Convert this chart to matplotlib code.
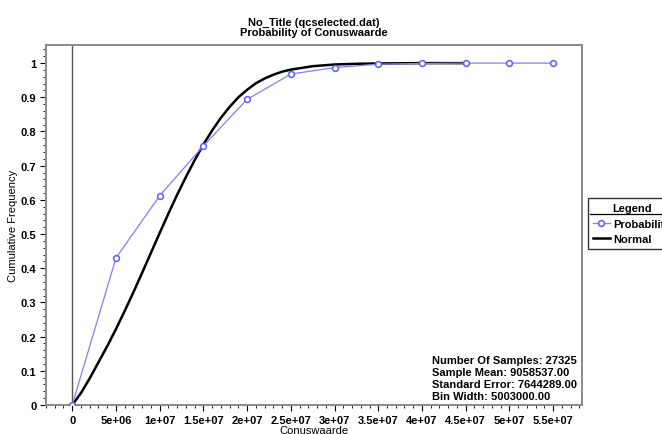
#!/usr/bin/env python

import matplotlib
matplotlib.use('Agg')
import matplotlib.pyplot as plt
from matplotlib.ticker import MultipleLocator
from matplotlib.lines import Line2D

bin_x = [0, 5e6, 1e7, 1.5e7, 2e7, 2.5e7, 3e7, 3.5e7, 4e7, 4.5e7, 5e7, 5.5e7]
prob_y = [0.0, 0.43, 0.612, 0.758, 0.894, 0.968, 0.987, 0.997, 0.999, 1.0, 1.0, 1.0]

# fitted normal curve, sampled by eye
norm_x = [0, 1e6, 2e6, 3e6, 4e6, 5e6, 6e6, 7e6, 8e6, 9e6, 1e7, 1.1e7, 1.2e7, 1.3e7,
          1.4e7, 1.5e7, 1.6e7, 1.7e7, 1.8e7, 1.9e7, 2e7, 2.1e7, 2.2e7, 2.3e7,
          2.4e7, 2.5e7, 2.75e7, 3e7, 3.25e7, 3.5e7, 4e7, 4.5e7]
norm_y = [0.0, 0.035, 0.078, 0.125, 0.172, 0.222, 0.275, 0.33, 0.387, 0.445, 0.503,
          0.56, 0.615, 0.667, 0.716, 0.762, 0.803, 0.84, 0.872, 0.9, 0.922,
          0.941, 0.955, 0.966, 0.975, 0.981, 0.991, 0.996, 0.998, 0.999, 1.0, 1.0]

xticks = [0, 5e6, 1e7, 1.5e7, 2e7, 2.5e7, 3e7, 3.5e7, 4e7, 4.5e7, 5e7, 5.5e7]
xtick_labels = ['0', '5e+06', '1e+07', '1.5e+07', '2e+07', '2.5e+07', '3e+07',
                '3.5e+07', '4e+07', '4.5e+07', '5e+07', '5.5e+07']
yticks = [0, 0.1, 0.2, 0.3, 0.4, 0.5, 0.6, 0.7, 0.8, 0.9, 1]
ytick_labels = ['0', '0.1', '0.2', '0.3', '0.4', '0.5', '0.6', '0.7', '0.8', '0.9', '1']

stats = ['Number Of Samples: 27325',
         'Sample Mean: 9058537.00',
         'Standard Error: 7644289.00',
         'Bin Width: 5003000.00']

plt.rcParams['font.family'] = ['Liberation Sans', 'DejaVu Sans']
plt.rcParams['font.weight'] = 'bold'
plt.rcParams['font.size'] = 8

fig = plt.figure(figsize=(6.62, 4.35), dpi=100)
ax = fig.add_axes([46/662., 1-406/435., (582-46)/662., (406-46)/435.])

ax.axvline(0, color='#555555', lw=1.0, zorder=1)
ax.plot(norm_x, norm_y, color='black', lw=1.8, label='Normal', zorder=3)
ax.plot(bin_x, prob_y, color='#7f7fff', lw=0.9, marker='o', ms=4.2,
        mfc='white', mec='#5c5cff', mew=1.1, label='Probability', zorder=4)

ax.set_xlim(-3e6, 58.3e6)
ax.set_ylim(0, 1.053)
ax.set_xticks(xticks)
ax.set_xticklabels(xtick_labels)
ax.set_yticks(yticks)
ax.set_yticklabels(ytick_labels)
ax.xaxis.set_minor_locator(MultipleLocator(1e6))
ax.yaxis.set_minor_locator(MultipleLocator(0.02))
ax.tick_params(which='major', direction='out', length=4, width=0.8, pad=3)
ax.tick_params(which='minor', direction='out', length=2, width=0.6)
ax.tick_params(top=False, right=False)

for s in ax.spines.values():
    s.set_color('#8a8a8a')
    s.set_linewidth(1.4)

ax.set_xlabel('Conuswaarde', labelpad=0)
ax.set_ylabel('Cumulative Frequency', labelpad=2)
ax.set_title('No_Title (qcselected.dat)\nProbability of Conuswaarde', fontsize=8,
             fontweight='bold', pad=7, linespacing=1.05)

ax.text(0.72, 0.012, '\n'.join(stats), transform=ax.transAxes, fontsize=8,
        va='bottom', ha='left', linespacing=1.25)

h, l = ax.get_legend_handles_labels()
leg = ax.legend(h[::-1], l[::-1], title='Legend', loc='upper left',
                bbox_to_anchor=(1.011, 0.575), frameon=True, fancybox=False,
                fontsize=8, title_fontsize=8, handlelength=1.5, borderpad=0.45,
                labelspacing=0.5, handletextpad=0.3, borderaxespad=0)
leg.get_frame().set_edgecolor('black')
leg.get_frame().set_linewidth(1.0)
leg.get_title().set_fontweight('bold')

# separator line under the legend title
fig.add_artist(Line2D([590/662., 1.0], [1-215/435., 1-215/435.],
                      transform=fig.transFigure, color='black', lw=0.9))

plt.savefig('out.png', dpi=100)
